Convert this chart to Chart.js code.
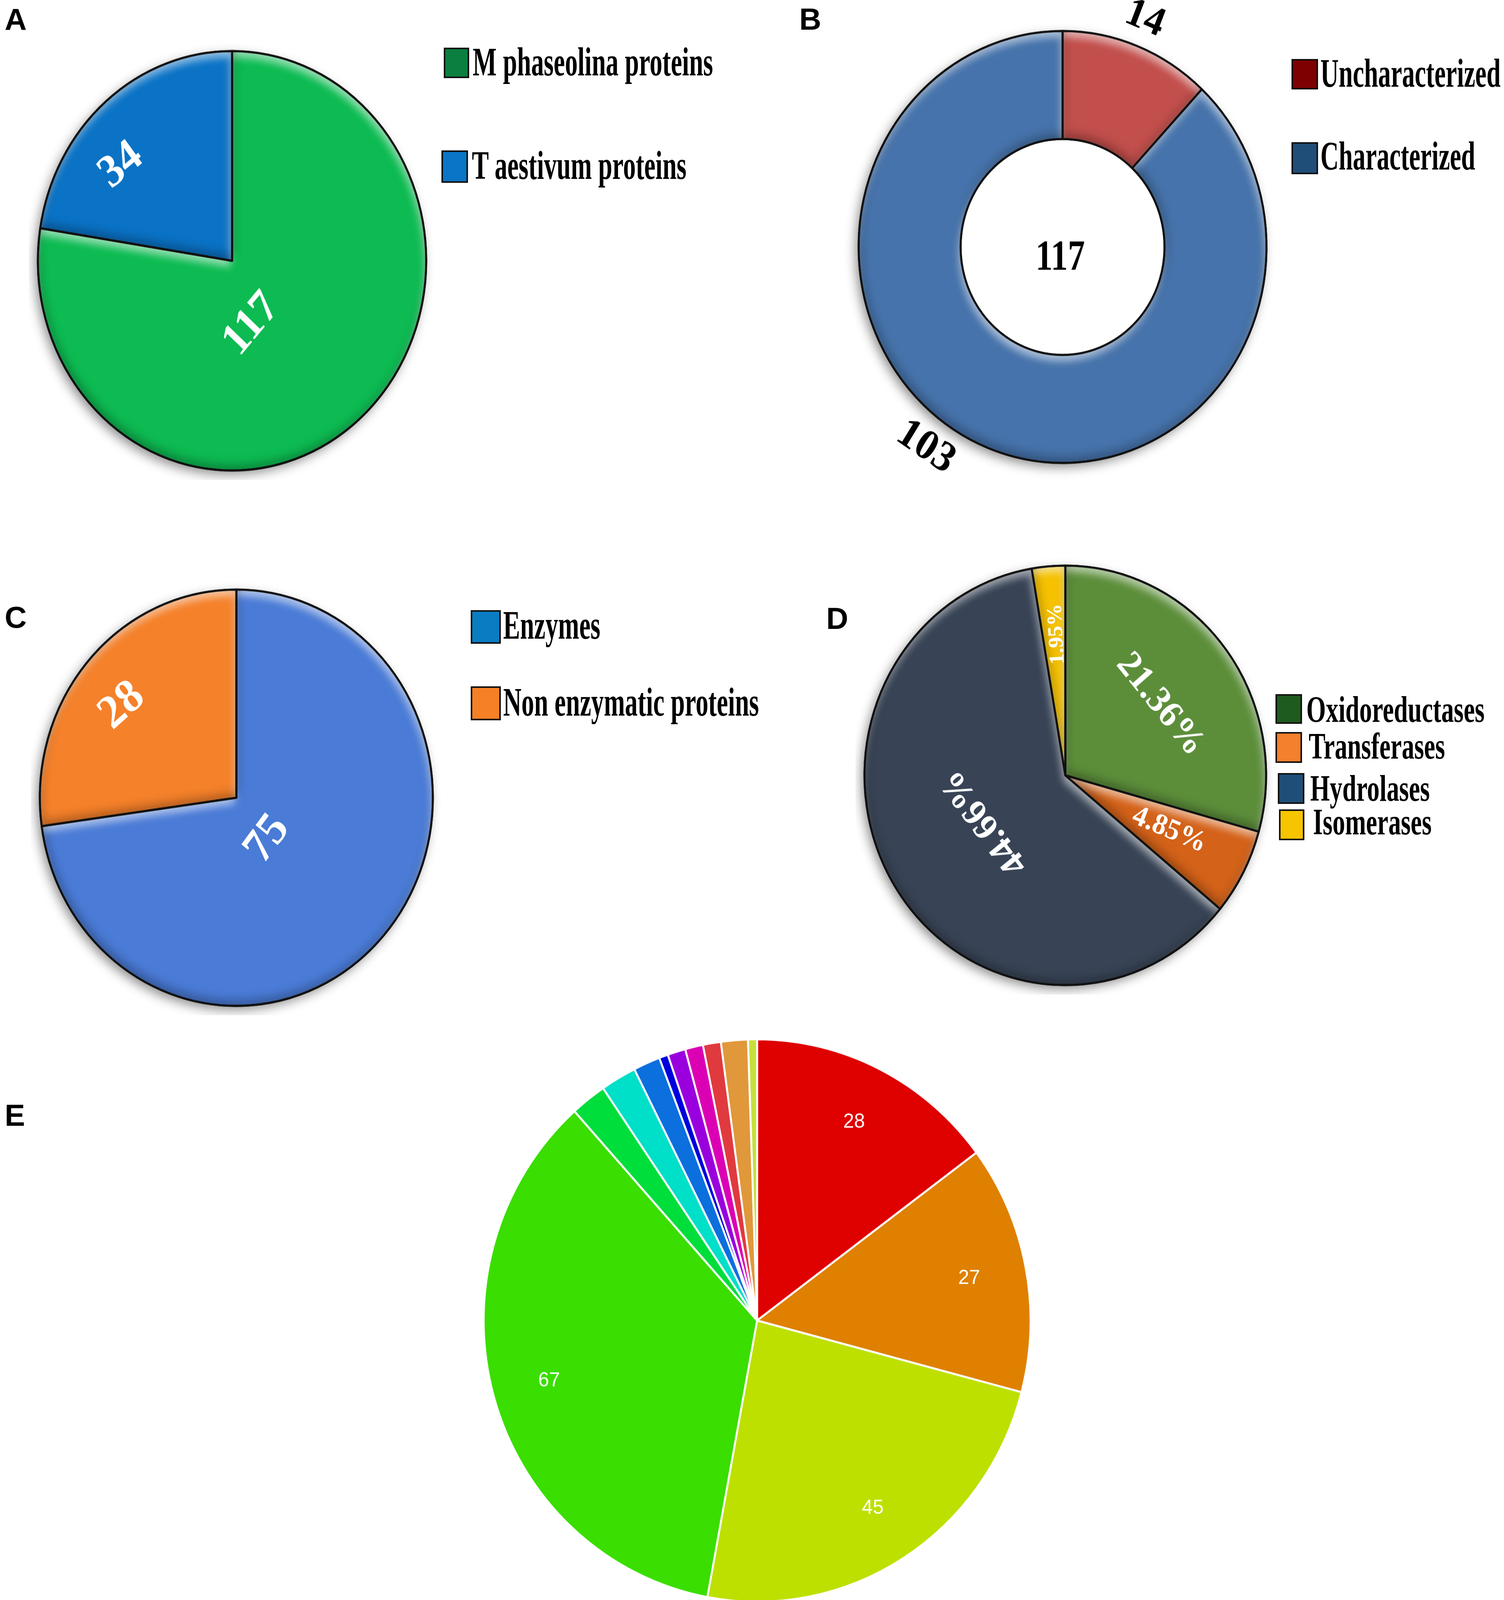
<!DOCTYPE html>
<html>
<head>
<meta charset="utf-8">
<script src="https://cdn.jsdelivr.net/npm/chart.js@4.4.1/dist/chart.umd.min.js"></script>
<style>
html, body { margin: 0; padding: 0; background: #fff; }
body { width: 3850px; height: 4116px; position: relative; overflow: hidden; }
.tag { position: absolute; font-family: "Liberation Sans", Arial, sans-serif; font-weight: bold; font-size: 78px; line-height: 1; color: #000; }
.pie { position: absolute; transform-origin: 0 0; }
.lg-box { position: absolute; border: 4px solid #111; box-sizing: border-box; }
.lg-text { position: absolute; font-family: "Liberation Serif", "Times New Roman", serif; font-weight: bold; line-height: 1; white-space: nowrap; transform-origin: 0 0; color: #000; }
</style>
</head>
<body>
<div class="tag" style="left:12px;top:11px">A</div>
<div class="tag" style="left:2046px;top:10px">B</div>
<div class="tag" style="left:12px;top:1541px">C</div>
<div class="tag" style="left:2115px;top:1544px">D</div>
<div class="tag" style="left:12px;top:2816px">E</div>

<div class="pie" id="wrapA"><canvas id="chartA"></canvas></div>
<div class="pie" id="wrapB"><canvas id="chartB"></canvas></div>
<div class="pie" id="wrapC"><canvas id="chartC"></canvas></div>
<div class="pie" id="wrapD"><canvas id="chartD"></canvas></div>
<div class="pie" id="wrapE"><canvas id="chartE"></canvas></div>

<script>
// values
const labelsA = ['M phaseolina proteins', 'T aestivum proteins'];
const valuesA = [117, 34];

const labelsB = ['Uncharacterized', 'Characterized'];
const valuesB = [14, 103];

const labelsC = ['Enzymes', 'Non enzymatic proteins'];
const valuesC = [75, 28];

const labelsD = ['Oxidoreductases', 'Transferases', 'Hydrolases', 'Isomerases'];
const valuesD = [21.36, 4.85, 44.66, 1.95];

const labelsE = ['E1', 'E2', 'E3', 'E4', 'E5', 'E6', 'E7', 'E8', 'E9', 'E10', 'E11', 'E12', 'E13'];
const valuesE = [28, 27, 45, 67, 4, 4, 3, 1, 2, 2, 2, 3, 1];

// colours
const sliceColorsA = ['#0dbb52', '#0a73c6'];
const legendColorsA = ['#0b7f40', '#0a74c6'];
const sliceColorsB = ['#c24f4c', '#4673ab'];
const legendColorsB = ['#7f0000', '#1f4e79'];
const sliceColorsC = ['#4a7bd6', '#f5812a'];
const legendColorsC = ['#0a7cc2', '#f58025'];
const sliceColorsD = ['#5c8e3a', '#d46219', '#384456', '#f5c100'];
const legendColorsD = ['#1e5b1e', '#f47f2c', '#1f4e79', '#f7c400'];
const sliceColorsE = ['#df0000', '#df8000', '#bde000', '#3ade00', '#00de3c', '#00dfc8',
                      '#0b6fde', '#0000dc', '#9a00de', '#dc00b4', '#e03a3f', '#e0983a', '#c6e03a'];

// stretch a square chart box into the slightly tall ellipse of the figure
function placePie(id, cx, cy, rx, ry, pad) {
    const wrap = document.getElementById(id);
    const k = ry / rx;
    wrap.style.left = (cx - rx - pad) + 'px';
    wrap.style.top = (cy - (rx + pad) * k) + 'px';
    wrap.style.width = 2 * (rx + pad) + 'px';
    wrap.style.height = 2 * (rx + pad) + 'px';
    wrap.style.transform = 'scaleY(' + k + ')';
}

function addLegend(labels, colors, rows, fs, sx) {
    labels.forEach((txt, i) => {
        const r = rows[i];
        const box = document.createElement('div');
        box.className = 'lg-box';
        box.style.left = r.box[0] + 'px';
        box.style.top = r.box[1] + 'px';
        box.style.width = r.box[2] + 'px';
        box.style.height = r.box[3] + 'px';
        box.style.background = colors[i];
        document.body.appendChild(box);
        const t = document.createElement('div');
        t.className = 'lg-text';
        t.textContent = txt;
        t.style.fontSize = fs + 'px';
        t.style.transform = 'scaleX(' + sx + ')';
        t.style.left = r.text[0] + 'px';
        t.style.top = (r.text[1] - 0.8375 * fs) + 'px';
        document.body.appendChild(t);
    });
}

function arcPath(ctx, arc) {
    const inner = arc.innerRadius || 0;
    if (inner > 0) {
        ctx.moveTo(arc.x + arc.outerRadius * Math.cos(arc.startAngle), arc.y + arc.outerRadius * Math.sin(arc.startAngle));
        ctx.arc(arc.x, arc.y, arc.outerRadius, arc.startAngle, arc.endAngle);
        ctx.arc(arc.x, arc.y, inner, arc.endAngle, arc.startAngle, true);
    } else {
        ctx.moveTo(arc.x, arc.y);
        ctx.arc(arc.x, arc.y, arc.outerRadius, arc.startAngle, arc.endAngle);
    }
    ctx.closePath();
}

// soft light/dark inner edges like the bevelled slices of the figure
const bevel = {
    id: 'bevel',
    afterDatasetsDraw(chart) {
        const ctx = chart.ctx;
        const shades = [
            { c: 'rgba(255,255,255,0.6)', b: 20, dx: -4, dy: 14 },
            { c: 'rgba(0,0,0,0.3)', b: 24, dx: 4, dy: -12 }
        ];
        chart.getDatasetMeta(0).data.forEach(arc => {
            shades.forEach(s => {
                ctx.save();
                ctx.beginPath();
                arcPath(ctx, arc);
                ctx.clip();
                ctx.beginPath();
                ctx.rect(-5000, -5000, 10000, 10000);
                arcPath(ctx, arc);
                ctx.shadowColor = s.c;
                ctx.shadowBlur = s.b;
                ctx.shadowOffsetX = s.dx;
                ctx.shadowOffsetY = s.dy;
                ctx.fillStyle = '#000';
                ctx.fill('evenodd');
                ctx.restore();
            });
            ctx.save();
            ctx.beginPath();
            arcPath(ctx, arc);
            ctx.lineWidth = 5;
            ctx.lineJoin = 'round';
            ctx.strokeStyle = '#111';
            ctx.stroke();
            ctx.restore();
        });
    }
};

// labels placed on the arcs computed by Chart.js
function sliceLabels(items, fmt) {
    return {
        id: 'sliceLabels',
        afterDatasetsDraw(chart) {
            const ctx = chart.ctx;
            const meta = chart.getDatasetMeta(0);
            const data = chart.data.datasets[0].data;
            items.forEach((it, i) => {
                if (!it) return;
                const arc = meta.data[i];
                const mid = (arc.startAngle + arc.endAngle) / 2;
                const ang = it.at == null ? mid : (it.at - 90) * Math.PI / 180;
                const r = arc.outerRadius * it.r;
                ctx.save();
                ctx.translate(arc.x + r * Math.cos(ang), arc.y + r * Math.sin(ang));
                ctx.rotate((it.rot || 0) * Math.PI / 180);
                ctx.scale(it.sx || 1, 1);
                ctx.font = it.font;
                ctx.fillStyle = it.color || '#fff';
                ctx.textAlign = 'center';
                ctx.textBaseline = 'middle';
                ctx.fillText(fmt(data[i]), 0, 0);
                ctx.restore();
            });
        }
    };
}

const pieShadow = {
    id: 'pieShadow',
    beforeDatasetsDraw(chart) {
        const arc = chart.getDatasetMeta(0).data[0];
        const ctx = chart.ctx;
        ctx.save();
        ctx.shadowColor = 'rgba(0,0,0,0.45)';
        ctx.shadowBlur = 28;
        ctx.shadowOffsetX = -8;
        ctx.shadowOffsetY = 10;
        ctx.fillStyle = '#fff';
        ctx.beginPath();
        ctx.arc(arc.x, arc.y, arc.outerRadius, 0, Math.PI * 2);
        ctx.fill();
        ctx.restore();
    }
};

const centerTotal = {
    id: 'centerTotal',
    afterDatasetsDraw(chart) {
        const arc = chart.getDatasetMeta(0).data[0];
        const total = chart.data.datasets[0].data.reduce((a, b) => a + b, 0);
        const ctx = chart.ctx;
        ctx.save();
        ctx.translate(arc.x - 6, arc.y + 28);
        ctx.scale(0.84, 1);
        ctx.font = 'bold 104px "Liberation Serif"';
        ctx.fillStyle = '#000';
        ctx.textAlign = 'center';
        ctx.textBaseline = 'middle';
        ctx.fillText(String(total), 0, 0);
        ctx.restore();
    }
};

function makePie(canvasId, type, labels, values, colors, opts) {
    const ctx = document.getElementById(canvasId).getContext('2d');
    return new Chart(ctx, {
        type: type,
        data: {
            labels: labels,
            datasets: [{
                data: values,
                backgroundColor: colors,
                borderColor: opts.border,
                borderWidth: opts.borderWidth,
                hoverOffset: 0
            }]
        },
        options: {
            responsive: true,
            maintainAspectRatio: false,
            animation: false,
            devicePixelRatio: 1,
            events: [],
            radius: opts.radius,
            cutout: opts.cutout || 0,
            plugins: {
                legend: { display: false },
                tooltip: { enabled: false }
            }
        },
        plugins: opts.plugins
    });
}

const serif = (px) => 'bold ' + px + 'px "Liberation Serif", "Times New Roman", serif';
const plain = (v) => String(v);

// A
placePie('wrapA', 594, 668, 500, 540, 20);
makePie('chartA', 'pie', labelsA, valuesA, sliceColorsA, {
    border: '#111', borderWidth: 5, radius: 497,
    plugins: [pieShadow, bevel, sliceLabels([
        { at: 161.6, r: 0.32, rot: -48, font: serif(110) },
        { at: 308.5, r: 0.73, rot: -38, font: serif(110) }
    ], plain)]
});
addLegend(labelsA, legendColorsA, [
    { box: [1136, 122, 65, 78], text: [1210, 193] },
    { box: [1130, 385, 68, 83], text: [1208, 458] }
], 103, 0.63);

// B
placePie('wrapB', 2720, 632, 525, 556, 140);
makePie('chartB', 'doughnut', labelsB, valuesB, sliceColorsB, {
    border: '#111', borderWidth: 5, radius: 522, cutout: '50%',
    plugins: [pieShadow, bevel, centerTotal, sliceLabels([
        { at: 20.9, r: 1.13, rot: 22, color: '#000', font: serif(100) },
        { at: 215.9, r: 1.145, rot: 33, color: '#000', font: serif(104) }
    ], plain)]
});
addLegend(labelsB, legendColorsB, [
    { box: [3306, 151, 68, 78], text: [3380, 222] },
    { box: [3306, 364, 68, 82], text: [3380, 434] }
], 103, 0.63);

// C
placePie('wrapC', 605, 2042, 506, 536, 20);
makePie('chartC', 'pie', labelsC, valuesC, sliceColorsC, {
    border: '#111', borderWidth: 5, radius: 503,
    plugins: [pieShadow, bevel, sliceLabels([
        { at: 141.6, r: 0.255, rot: -52, font: serif(114) },
        { at: 307.2, r: 0.73, rot: -40, font: serif(114) }
    ], plain)]
});
addLegend(labelsC, legendColorsC, [
    { box: [1205, 1562, 77, 86], text: [1288, 1635] },
    { box: [1205, 1757, 77, 87], text: [1288, 1832] }
], 103, 0.63);

// D
placePie('wrapD', 2727, 1985, 517, 540, 20);
makePie('chartD', 'pie', labelsD, valuesD, sliceColorsD, {
    border: '#111', borderWidth: 5, radius: 514,
    plugins: [pieShadow, bevel, sliceLabels([
        { at: 54.5, r: 0.58, rot: 50, font: serif(92) },
        { at: 116.8, r: 0.58, rot: 22, font: serif(72) },
        { at: 240.8, r: 0.46, rot: -128, font: serif(92) },
        { at: -3.6, r: 0.675, rot: -93, font: serif(54) }
    ], (v) => v.toFixed(2) + '%')]
});
addLegend(labelsD, legendColorsD, [
    { box: [3265, 1777, 68, 76], text: [3344, 1848] },
    { box: [3265, 1874, 68, 79], text: [3350, 1942] },
    { box: [3271, 1979, 68, 79], text: [3354, 2050] },
    { box: [3274, 2072, 65, 79], text: [3361, 2136] }
], 96, 0.67);

// E
placePie('wrapE', 1938, 3381, 700, 720, 20);
const labelRuleE = valuesE.map(v => v >= 20 ? { r: 0.79, font: '50px "Liberation Sans", Arial, sans-serif' } : null);
makePie('chartE', 'pie', labelsE, valuesE, sliceColorsE, {
    border: '#fff', borderWidth: 5, radius: 700,
    plugins: [sliceLabels(labelRuleE, plain)]
});
</script>
</body>
</html>
